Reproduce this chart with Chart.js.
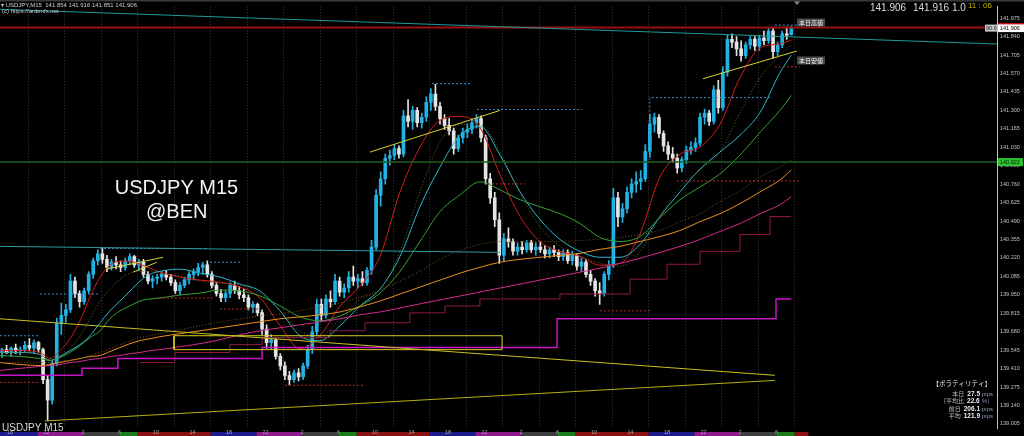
<!DOCTYPE html>
<html>
<head>
<meta charset="utf-8">
<script src="https://cdn.jsdelivr.net/npm/chart.js@4.4.1/dist/chart.umd.min.js"></script>
<style>
  html, body { margin: 0; padding: 0; background: #000; overflow: hidden; }
  canvas { display: block; }
</style>
</head>
<body>
<canvas id="chart" width="1024" height="436"></canvas>
<script>
/* ---------- DATA (USDJPY M15, 30-min candles, x in 15-min bar units) ---------- */
const firstBar = -3.5;
const opens = [139.53,139.55,139.53,139.56,139.54,139.55,139.58,139.56,139.60,139.55,139.33,139.18,139.45,139.74,139.80,139.84,140.05,139.96,139.90,139.98,140.10,140.20,140.25,140.21,140.15,140.19,140.17,140.15,140.20,140.23,140.17,140.19,140.10,140.05,140.07,140.08,140.10,140.08,140.04,139.98,140.02,140.06,140.10,140.12,140.15,140.17,140.10,140.02,139.96,139.93,139.96,140.02,139.98,139.95,139.93,139.86,139.88,139.82,139.70,139.60,139.62,139.50,139.43,139.36,139.33,139.38,139.35,139.43,139.55,139.68,139.88,139.80,139.92,139.90,140.05,139.97,140.00,140.08,140.05,140.07,140.04,140.13,140.30,140.68,140.80,140.95,140.97,141.02,140.98,141.26,141.22,141.30,141.21,141.25,141.36,141.42,141.33,141.24,141.19,141.15,141.02,141.10,141.14,141.16,141.21,141.24,141.10,140.80,140.66,140.50,140.24,140.36,140.34,140.27,140.30,140.28,140.33,140.28,140.30,140.28,140.25,140.28,140.26,140.23,140.26,140.20,140.24,140.16,140.19,140.10,140.05,139.98,139.96,140.10,140.17,140.66,140.52,140.58,140.70,140.76,140.78,140.80,141.00,141.20,141.25,141.13,141.04,140.98,140.95,140.88,140.94,141.01,141.03,141.06,141.25,141.28,141.22,141.45,141.32,141.58,141.82,141.80,141.75,141.70,141.78,141.82,141.77,141.83,141.81,141.88,141.73,141.78,141.86,141.854];
const highs = [139.56,139.58,139.57,139.59,139.57,139.61,139.63,139.62,139.61,139.56,139.36,139.47,139.78,139.89,139.88,140.10,140.08,139.98,140.00,140.12,140.22,140.28,140.29,140.24,140.21,140.23,140.20,140.22,140.25,140.24,140.21,140.21,140.12,140.09,140.10,140.12,140.13,140.10,140.06,140.04,140.08,140.12,140.14,140.18,140.19,140.20,140.12,140.04,139.99,139.98,140.04,140.05,140.01,139.99,139.95,139.90,139.89,139.84,139.73,139.66,139.63,139.52,139.46,139.39,139.40,139.41,139.45,139.58,139.72,139.92,139.92,139.95,139.98,140.10,140.08,140.03,140.12,140.16,140.10,140.12,140.15,140.35,140.72,140.85,140.98,141.01,141.05,141.04,141.30,141.38,141.33,141.32,141.28,141.40,141.46,141.49,141.36,141.27,141.24,141.17,141.12,141.17,141.20,141.24,141.27,141.26,141.12,140.84,140.70,140.55,140.40,140.44,140.36,140.33,140.34,140.35,140.35,140.33,140.34,140.31,140.30,140.31,140.28,140.28,140.28,140.27,140.25,140.22,140.21,140.13,140.07,140.04,140.12,140.20,140.73,140.70,140.62,140.74,140.80,140.85,140.86,141.05,141.27,141.28,141.27,141.15,141.07,141.03,140.98,140.96,141.04,141.07,141.10,141.28,141.31,141.30,141.48,141.52,141.62,141.85,141.86,141.84,141.81,141.80,141.84,141.84,141.85,141.88,141.90,141.90,141.80,141.88,141.91,141.916];
const lows = [139.49,139.52,139.50,139.52,139.51,139.53,139.54,139.52,139.53,139.30,139.03,139.15,139.43,139.66,139.75,139.82,139.93,139.86,139.88,139.96,140.07,140.17,140.18,140.12,140.13,140.14,140.12,140.13,140.17,140.15,140.13,140.08,140.03,140.00,140.03,140.05,140.06,140.02,139.96,139.95,140.00,140.03,140.06,140.09,140.10,140.08,140.00,139.94,139.90,139.90,139.93,139.96,139.92,139.90,139.84,139.82,139.80,139.66,139.56,139.55,139.48,139.40,139.33,139.29,139.31,139.32,139.33,139.41,139.52,139.65,139.76,139.78,139.86,139.88,139.94,139.93,139.97,140.02,140.00,140.02,140.02,140.10,140.28,140.60,140.76,140.90,140.94,140.95,140.96,141.18,141.16,141.18,141.17,141.22,141.30,141.30,141.20,141.16,141.12,140.98,141.00,141.06,141.10,141.13,141.17,141.07,140.76,140.62,140.45,140.18,140.20,140.30,140.24,140.24,140.25,140.26,140.26,140.24,140.26,140.22,140.22,140.23,140.20,140.20,140.18,140.17,140.13,140.12,140.08,140.02,139.94,139.88,139.94,140.06,140.15,140.45,140.48,140.55,140.66,140.70,140.72,140.78,140.96,141.14,141.10,141.00,140.94,140.92,140.84,140.85,140.91,140.98,141.00,141.04,141.20,141.19,141.20,141.28,141.30,141.55,141.76,141.70,141.66,141.68,141.75,141.74,141.74,141.78,141.79,141.68,141.70,141.76,141.82,141.851];
const closes = [139.55,139.53,139.56,139.54,139.55,139.58,139.56,139.60,139.55,139.33,139.18,139.45,139.74,139.80,139.84,140.05,139.96,139.90,139.98,140.10,140.20,140.25,140.21,140.15,140.19,140.17,140.15,140.20,140.23,140.17,140.19,140.10,140.05,140.07,140.08,140.10,140.08,140.04,139.98,140.02,140.06,140.10,140.12,140.15,140.17,140.10,140.02,139.96,139.93,139.96,140.02,139.98,139.95,139.93,139.86,139.88,139.82,139.70,139.60,139.62,139.50,139.43,139.36,139.33,139.38,139.35,139.43,139.55,139.68,139.88,139.80,139.92,139.90,140.05,139.97,140.00,140.08,140.05,140.07,140.04,140.13,140.30,140.68,140.80,140.95,140.97,141.02,140.98,141.26,141.22,141.30,141.21,141.25,141.36,141.42,141.33,141.24,141.19,141.15,141.02,141.10,141.14,141.16,141.21,141.24,141.10,140.80,140.66,140.50,140.24,140.36,140.34,140.27,140.30,140.28,140.33,140.28,140.30,140.28,140.25,140.28,140.26,140.23,140.26,140.20,140.24,140.16,140.19,140.10,140.05,139.98,139.96,140.10,140.17,140.66,140.52,140.58,140.70,140.76,140.78,140.80,141.00,141.20,141.25,141.13,141.04,140.98,140.95,140.88,140.94,141.01,141.03,141.06,141.25,141.28,141.22,141.45,141.32,141.58,141.82,141.80,141.75,141.70,141.78,141.82,141.77,141.83,141.81,141.88,141.73,141.78,141.86,141.85,141.906];

// moving averages sampled along the bar axis
const maBars = [-4.4,4.4,13.2,17.5,21.9,26.3,30.7,35.1,39.5,43.8,48.2,52.6,57,61.4,65.8,74.5,83.3,92.1,100.8,109.6,118.4,127.1,135.9,144.7,153.4,162.2,171,179.7,188.5,197.3,206,214.8,223.6,232.3,241.1,249.9,258.6,267.4,276.2,284.9,293.7,302.5,311.2,320,328.8,337.5,342.5];
const maRed = [139.542,139.542,139.528,139.484,139.542,139.629,139.760,139.934,140.080,140.167,140.196,140.196,140.174,140.145,140.116,140.080,140.058,140.043,140.007,139.927,139.724,139.557,139.651,139.869,140.014,140.232,140.704,141.031,141.227,141.256,141.176,140.828,140.523,140.341,140.268,140.232,140.167,140.181,140.399,140.813,140.980,141.031,141.198,141.539,141.757,141.786,141.815];
const maCyan = [139.528,139.528,139.513,139.470,139.499,139.542,139.586,139.651,139.746,139.833,139.905,139.978,140.051,140.101,140.123,140.138,140.109,140.080,140.029,139.978,139.833,139.651,139.615,139.724,139.869,139.992,140.232,140.595,140.886,141.118,141.183,140.973,140.704,140.501,140.356,140.268,140.225,140.225,140.319,140.523,140.704,140.871,140.995,141.118,141.285,141.576,141.706];
const maGreen = [139.506,139.499,139.484,139.470,139.491,139.528,139.579,139.637,139.687,139.775,139.833,139.869,139.905,139.920,139.927,139.949,139.963,139.985,139.978,139.942,139.869,139.789,139.760,139.796,139.869,139.963,140.123,140.341,140.559,140.682,140.777,140.719,140.646,140.595,140.544,140.472,140.370,140.341,140.377,140.515,140.646,140.740,140.835,140.973,141.140,141.300,141.409];
const maOrange = [139.455,139.440,139.433,139.440,139.455,139.470,139.484,139.499,139.506,139.535,139.564,139.593,139.615,139.629,139.644,139.666,139.687,139.709,139.731,139.753,139.775,139.789,139.804,139.825,139.862,139.905,139.956,140.007,140.058,140.109,140.152,140.189,140.210,140.225,140.239,140.254,140.283,140.305,140.341,140.377,140.421,140.486,140.544,140.617,140.704,140.791,140.864];
const maPink = [139.397,139.412,139.426,139.433,139.440,139.455,139.462,139.477,139.484,139.499,139.506,139.520,139.528,139.542,139.549,139.571,139.593,139.622,139.658,139.687,139.709,139.731,139.753,139.775,139.804,139.825,139.854,139.884,139.913,139.942,139.971,140.000,140.029,140.058,140.087,140.116,140.145,140.181,140.218,140.261,140.305,140.356,140.414,140.472,140.544,140.610,140.668];
const maOlive = [139.528,139.528,139.513,139.470,139.499,139.557,139.651,139.775,139.905,139.992,140.065,140.109,140.123,140.123,140.109,140.087,140.051,140.036,140.022,139.963,139.833,139.687,139.651,139.775,139.920,139.992,140.268,140.704,141.067,141.198,141.198,140.995,140.690,140.450,140.305,140.232,140.181,140.160,140.268,140.523,140.740,140.864,140.995,141.285,141.539,141.706,141.779];
const maBrown = [139.455,139.455,139.455,139.455,139.462,139.470,139.484,139.506,139.528,139.557,139.586,139.615,139.637,139.651,139.666,139.695,139.724,139.753,139.775,139.796,139.811,139.833,139.862,139.891,139.934,139.985,140.051,140.123,140.210,140.276,140.319,140.341,140.341,140.341,140.341,140.348,140.356,140.370,140.392,140.421,140.486,140.544,140.632,140.711,140.813,140.886,140.937];

// stepped bands [bar, price]
const magentaSteps = [[-4.4,139.361],[31.6,139.412],[47.3,139.484],[110.5,139.564],[239.8,139.775],[335.8,139.920],[342.5,139.920]];
const maroonSteps = [[57,139.455],[72.3,139.528],[96.4,139.586],[110.5,139.637],[140.3,139.687],[155.6,139.746],[175.3,139.818],[190.7,139.869],[206,139.920],[241.1,139.956],[271.8,140.065],[288,140.174],[302.5,140.268],[320,140.392],[333.2,140.523],[342.5,140.523]];

// drawn objects [bar, price]
const bidPrice = 141.906;
const keyLevel = 140.922;
const topTrend = [[-4.4,142.040],[432.7,141.786]];
const midLevel = [[-4.4,140.305],[214.8,140.261]];
const yellowDown = [[-4.4,139.775],[335.3,139.361]];
const yellowUp = [[15.3,139.027],[335.3,139.324]];
const chanA = [[42.1,140.138],[67.1,140.225]];
const chanB = [[53.9,140.116],[64.4,140.189]];
const chanC = [[157.8,140.995],[214.8,141.300]];
const chanD = [[303.8,141.532],[345,141.735]];
const yellowBox = [71.9, 215.7, 139.549, 139.651]; // bar from, bar to, low, high

// session high / low markers [bar from, bar to, price]
const highMarks = [[-4.4,13.2,139.651],[13.2,39.5,139.956],[39.5,86.4,140.290],[87.7,100.8,140.189],[185,201.6,141.496],[204.7,250.7,141.307],[281.4,333.2,141.394],[335.3,346,141.924]];
const lowMarks = [[-4.4,13.2,139.310],[63.6,89,139.927],[92.1,109.6,139.847],[120.5,155.6,139.288],[209.5,225.8,140.762],[258.6,280.5,139.833],[292.4,346.3,140.784],[335.3,346.3,141.619]];
const rangeMark = [[280.5,141.394],[280.5,140.922]];

// axis labels
const hourLabels = ["18","22","2","6","10","14","18","22","2","6","10","14","18","22","2","6","10","14","18","22","2","6"];
const yTicks = [141.975,141.840,141.705,141.570,141.435,141.300,141.165,141.030,140.895,140.760,140.625,140.490,140.355,140.220,140.085,139.950,139.815,139.680,139.545,139.410,139.275,139.140,139.005];

// trading sessions along the bottom strip
const sessionStarts = [-5,12,32,48,56,88,108,128,144,152,184,204,224,240,248,280,300,320,336,344];
const sessionNames = ["ny","late","tokyo","pre","london","ny","late","tokyo","pre","london","ny","late","tokyo","pre","london","ny","late","tokyo","pre","london"];
const sessionEnd = 350;

// volatility panel
const volToday = "27.5", volRatio = "22.6", volPrev = "206.1", volAvg = "121.9";

/* ---------- STYLE ---------- */
const UP = "#22b2e4";
const DOWN = "#e4e4e4";
const sessionColors = { ny:"#1c1c8e", late:"#8e1a8e", tokyo:"#3e3e3e", pre:"#1b7d1b", london:"#8b1212" };

const pts = arr => arr.map(p => ({ x: p[0], y: p[1] }));
const maPts = vals => maBars.map((b, i) => ({ x: b, y: vals[i] }));
function markPts(marks) {
  const out = [];
  marks.forEach(m => { out.push({ x: m[0], y: m[2] }, { x: m[1], y: m[2] }, { x: m[1], y: null }); });
  return out;
}
function line(data, color, extra) {
  return Object.assign({ type: "line", data, borderColor: color, borderWidth: 1, pointRadius: 0,
    fill: false, tension: 0, spanGaps: false, order: 2 }, extra || {});
}

const candleX = opens.map((_, i) => firstBar + 2 * i);
const candleColors = opens.map((o, i) => closes[i] >= o ? UP : DOWN);

const xMin = -4.38, xMax = 432.67;
const yMin = 138.9756, yMax = 142.062;

const datasets = [
  line(pts(topTrend), "#1f9a9a", { order: 1 }),
  line(pts(midLevel), "#2f9aa2", { order: 1 }),
  line([{ x: xMin, y: bidPrice }, { x: xMax, y: bidPrice }], "#9a1010", { borderWidth: 2, order: 1 }),
  line([{ x: xMin, y: keyLevel }, { x: xMax, y: keyLevel }], "#1f5f1f", { borderWidth: 1.5, order: 1 }),
  line(pts(yellowDown), "#c8c020", { order: 1 }),
  line(pts(yellowUp), "#b8b018", { order: 1 }),
  line(pts(chanA), "#d8d030", { order: 1 }),
  line(pts(chanB), "#d8d030", { order: 1 }),
  line(pts(chanC), "#d8d030", { order: 1 }),
  line(pts(chanD), "#d8d030", { order: 1 }),
  line([{ x: yellowBox[0], y: yellowBox[2] }, { x: yellowBox[1], y: yellowBox[2] }, { x: yellowBox[1], y: yellowBox[3] },
        { x: yellowBox[0], y: yellowBox[3] }, { x: yellowBox[0], y: yellowBox[2] }], "#d8d020", { order: 1 }),
  line(markPts(highMarks), "#3a8ccc", { borderDash: [2, 2], order: 1 }),
  line(markPts(lowMarks), "#b42a2a", { borderDash: [2, 2], order: 1 }),
  line(pts(rangeMark), "#3a8ccc", { borderDash: [2, 2], order: 1 }),
  line(pts(magentaSteps), "#c814c8", { stepped: true, borderWidth: 1.5 }),
  line(pts(maroonSteps), "#8e1c40", { stepped: true }),
  line(maPts(maBrown), "#80521e", { borderDash: [1, 2], cubicInterpolationMode: "monotone" }),
  line(maPts(maOlive), "#6c6c22", { borderDash: [1, 2], cubicInterpolationMode: "monotone" }),
  line(maPts(maPink), "#d42a8e", { cubicInterpolationMode: "monotone" }),
  line(maPts(maOrange), "#e8901c", { cubicInterpolationMode: "monotone" }),
  line(maPts(maGreen), "#36a036", { cubicInterpolationMode: "monotone" }),
  line(maPts(maCyan), "#28b8c8", { cubicInterpolationMode: "monotone" }),
  line(maPts(maRed), "#d41c1c", { cubicInterpolationMode: "monotone" }),
  { type: "bar", data: candleX.map((b, i) => ({ x: b, y: [lows[i], highs[i]] })), backgroundColor: candleColors,
    borderWidth: 0, barThickness: 1, grouped: false, order: 20 },
  { type: "bar", data: candleX.map((b, i) => ({ x: b, y: [opens[i], closes[i]] })), backgroundColor: candleColors,
    borderWidth: 0, barThickness: 3, minBarLength: 1, grouped: false, order: 19 }
];

/* ---------- OVERLAYS ---------- */
const SANS = '"Liberation Sans"';
const JP = '"Noto Sans CJK JP"';

const overlay = {
  id: "overlay",
  beforeDraw(chart) {
    const { ctx, width, height } = chart;
    const x = chart.scales.x;
    ctx.save();
    ctx.fillStyle = "#000";
    ctx.fillRect(0, 0, width, height);
    sessionStarts.forEach((s, i) => {
      const x0 = Math.max(0, x.getPixelForValue(s));
      const x1 = x.getPixelForValue(i + 1 < sessionStarts.length ? sessionStarts[i + 1] : sessionEnd);
      ctx.fillStyle = sessionColors[sessionNames[i]];
      ctx.fillRect(x0, 432, x1 - x0, 4);
    });
    ctx.restore();
  },
  afterDraw(chart) {
    const { ctx } = chart;
    const y = chart.scales.y;
    ctx.save();
    // frame
    ctx.fillStyle = "#3a3a3a";
    ctx.fillRect(0, 0, 1024, 1.5);
    ctx.fillStyle = "#8a8a8a";
    ctx.beginPath(); ctx.moveTo(794, 1.5); ctx.lineTo(800, 1.5); ctx.lineTo(797, 5); ctx.closePath(); ctx.fill();

    // header
    ctx.fillStyle = "#cfcfcf";
    ctx.font = `6px ${SANS}`;
    ctx.textAlign = "left";
    ctx.textBaseline = "alphabetic";
    ctx.fillText("▾ USDJPY,M15  141.854 141.916 141.851 141.906", 1, 7);
    ctx.fillText("(c) https://ardenfx.net", 2, 12.5);

    // quote + clock
    ctx.fillStyle = "#dcdcdc";
    ctx.font = `10px ${SANS}`;
    ctx.fillText("141.906", 870, 10.5);
    ctx.fillText("141.916", 913, 10.5);
    ctx.save();
    ctx.beginPath(); ctx.rect(950, 0, 17, 14); ctx.clip();
    ctx.fillText("1.0", 952, 10.5);
    ctx.restore();
    ctx.fillStyle = "#c8b400";
    ctx.font = `8px ${SANS}`;
    ctx.fillText("11 : 06", 968, 8);

    // high / low tags
    const tag = (txt, cy) => {
      ctx.fillStyle = "#4a4a4a";
      ctx.fillRect(797, cy - 4, 28, 8);
      ctx.fillStyle = "#f0f0f0";
      ctx.font = `6px ${JP}`;
      ctx.textAlign = "center";
      ctx.textBaseline = "middle";
      ctx.fillText(txt, 811, cy + 0.3);
    };
    tag("本日高値", 22.5);
    tag("本日安値", 60.5);

    // axis price boxes
    ctx.textAlign = "left";
    ctx.textBaseline = "middle";
    ctx.font = `5.5px ${SANS}`;
    const by = y.getPixelForValue(bidPrice);
    ctx.fillStyle = "#ffffff";
    ctx.fillRect(998, by - 3.5, 26, 8);
    ctx.fillStyle = "#e01010";
    ctx.fillRect(998, by - 4.5, 26, 1.2);
    ctx.fillStyle = "#000";
    ctx.fillText("141.906", 1000, by + 0.6);
    ctx.fillStyle = "#c8c8c8";
    ctx.fillRect(985, by - 3, 12, 7);
    ctx.fillStyle = "#111";
    ctx.fillText("90.6", 986, by + 0.6);
    const ky = y.getPixelForValue(keyLevel);
    ctx.fillStyle = "#2ec02e";
    ctx.fillRect(998, ky - 4, 25, 8);
    ctx.fillStyle = "#062006";
    ctx.fillText("140.922", 1000, ky + 0.3);

    // chart title
    ctx.fillStyle = "#f2f2f2";
    ctx.textAlign = "center";
    ctx.textBaseline = "alphabetic";
    ctx.font = `20px ${SANS}`;
    ctx.fillText("USDJPY M15", 176.5, 194);
    ctx.fillText("@BEN", 176.7, 218);
    ctx.textAlign = "left";
    ctx.fillStyle = "#d6d6d6";
    ctx.font = `10px ${SANS}`;
    ctx.fillText("USDJPY M15", 2, 430.5);

    // volatility panel
    const row = (label, num, unit, cy) => {
      ctx.textAlign = "right";
      ctx.textBaseline = "middle";
      ctx.font = `6px ${SANS}`;
      ctx.fillStyle = "#8c9cc0";
      ctx.fillText(unit, 993, cy);
      const uw = ctx.measureText(unit).width;
      ctx.font = `bold 6.5px ${SANS}`;
      ctx.fillStyle = "#ececec";
      ctx.fillText(num, 991 - uw, cy);
      const nw = ctx.measureText(num).width;
      ctx.font = `6px ${JP}`;
      ctx.fillStyle = "#b8b8b8";
      ctx.fillText(label, 988 - uw - nw, cy);
    };
    ctx.textAlign = "right";
    ctx.textBaseline = "middle";
    ctx.font = `6.5px ${JP}`;
    ctx.fillStyle = "#e6e6e6";
    ctx.fillText("【ボラティリティ】", 991, 384);
    row("本日", volToday, "pips", 394);
    row("（平均比", volRatio, "%）", 401);
    row("前日", volPrev, "pips", 409);
    row("平均", volAvg, "pips", 416);
    ctx.restore();
  }
};

/* ---------- CHART ---------- */
new Chart(document.getElementById("chart"), {
  type: "bar",
  data: { datasets },
  options: {
    responsive: false,
    devicePixelRatio: 1,
    animation: false,
    events: [],
    layout: { padding: { top: 3, left: 0, right: 0, bottom: 0 } },
    plugins: { legend: { display: false }, tooltip: { enabled: false } },
    scales: {
      x: {
        type: "linear", min: xMin, max: xMax, offset: false,
        grid: { color: "#3c3c3c", lineWidth: 1, drawTicks: false },
        border: { display: false, dash: [1, 2] },
        ticks: { color: "#a8a8a8", font: { size: 5.5, family: "Liberation Sans" }, padding: 1.5,
                 maxRotation: 0, autoSkip: false, callback: (v, i) => hourLabels[i] },
        afterBuildTicks: s => { s.ticks = hourLabels.map((_, i) => ({ value: i * 16 })); },
        afterFit: s => { s.height = 8; }
      },
      y: {
        type: "linear", position: "right", min: yMin, max: yMax,
        grid: { display: false, drawTicks: false },
        border: { display: true, color: "#c4c4c4", width: 1 },
        ticks: { color: "#c0c0c0", font: { size: 5.5, family: "Liberation Sans" }, padding: 3,
                 callback: v => v.toFixed(3) },
        afterBuildTicks: s => { s.ticks = yTicks.map(v => ({ value: v })); },
        afterFit: s => { s.width = 27; }
      }
    }
  },
  plugins: [overlay]
});
</script>
</body>
</html>
